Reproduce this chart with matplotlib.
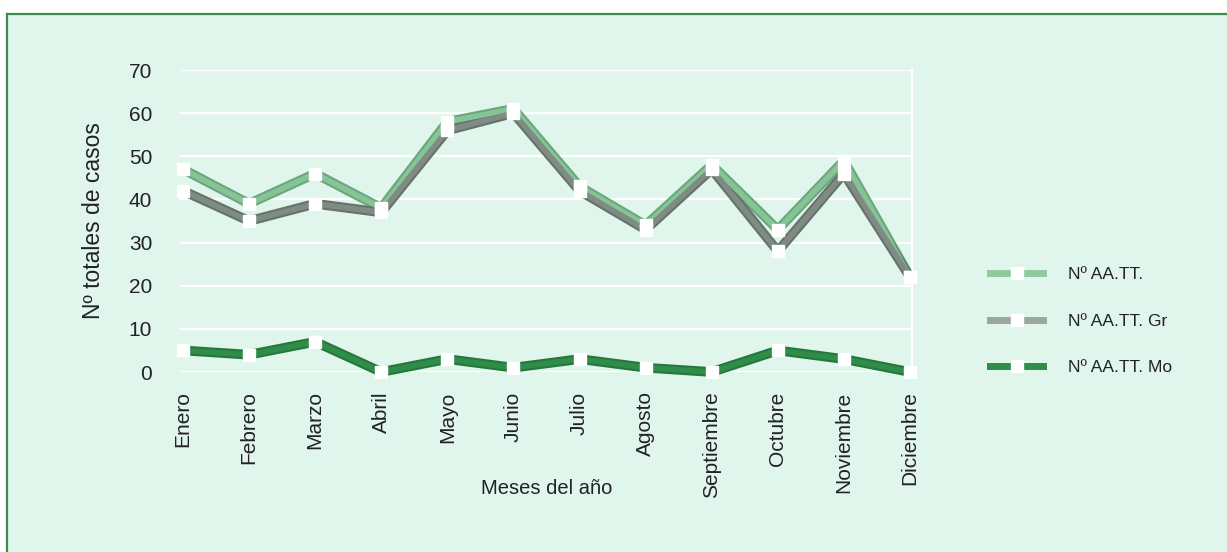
import matplotlib
matplotlib.use("Agg")
import matplotlib.pyplot as plt
from matplotlib.lines import Line2D
from matplotlib.patches import Rectangle

months = ["Enero", "Febrero", "Marzo", "Abril", "Mayo", "Junio", "Julio",
          "Agosto", "Septiembre", "Octubre", "Noviembre", "Diciembre"]
aatt_total = [47, 39, 46, 38, 58, 61, 43, 34, 48, 33, 49, 22]
aatt_gr = [42, 35, 39, 37, 56, 60, 42, 33, 47, 28, 46, 22]
aatt_mo = [5, 4, 7, 0, 3, 1, 3, 1, 0, 5, 3, 0]
series_labels = ["Nº AA.TT.", "Nº AA.TT. Gr", "Nº AA.TT. Mo"]
yticks = [0, 10, 20, 30, 40, 50, 60, 70]

plt.rcParams['font.family'] = ['Liberation Sans', 'DejaVu Sans']
text_col = "#222222"

W, H = 1227, 552
fig = plt.figure(figsize=(W / 100, H / 100), dpi=100, facecolor="white")

bg = "#e0f5ec"
frame = "#3d8a4e"
# panel background with a rule on the left and top edges
fig.add_artist(Rectangle((7 / W, 0), 1 - 7 / W, 1 - 14 / H,
                         transform=fig.transFigure, facecolor=bg,
                         edgecolor="none", zorder=0))
fig.add_artist(Line2D([7 / W, 7 / W], [0, 1 - 14 / H], transform=fig.transFigure,
                      color=frame, lw=1.6, zorder=1))
fig.add_artist(Line2D([7 / W, 1], [1 - 14 / H, 1 - 14 / H], transform=fig.transFigure,
                      color=frame, lw=1.6, zorder=1))

ax_l, ax_r = 180, 912
ax_top, ax_bot = 70, 372
ax = fig.add_axes([ax_l / W, 1 - ax_bot / H, (ax_r - ax_l) / W, (ax_bot - ax_top) / H])
ax.set_facecolor("none")

x = list(range(len(months)))
px_per = (910 - 183) / 11
ax.set_xlim(-(183 - ax_l) / px_per, 11 + (ax_r - 910) / px_per)
ax.set_ylim(0, 70)

for s in ax.spines.values():
    s.set_visible(False)
ax.spines["right"].set_visible(True)
ax.spines["right"].set_color("white")
ax.spines["right"].set_linewidth(1.5)

ax.set_yticks(yticks)
ax.yaxis.grid(True, color="white", lw=1.6)
ax.set_axisbelow(True)
ax.tick_params(axis="y", length=0, pad=20, labelsize=15, labelcolor=text_col)
ax.set_xticks(x)
ax.set_xticklabels(months, rotation=90, va="top", ha="center")
ax.tick_params(axis="x", length=0, pad=14, labelsize=15, labelcolor=text_col)

colors = ["#86c497", "#7f8c84", "#2f8c49"]
shadows = ["#6aa87c", "#66726b", "#25783c"]
data = [aatt_total, aatt_gr, aatt_mo]

# ribbon-like lines: darker body with a lighter core, white square markers on top
for vals, c, sh in zip(data, colors, shadows):
    ax.plot(x, vals, color=sh, lw=7, solid_capstyle="butt", zorder=3, clip_on=False)
    ax.plot(x, vals, color=c, lw=4, solid_capstyle="butt", zorder=3.1, clip_on=False)
for vals in data:
    ax.plot(x, vals, ls="none", marker="s", ms=9, mfc="white", mec="white",
            zorder=4, clip_on=False)

ax.set_ylabel("Nº totales de casos", fontsize=16.5, color=text_col)
ax.yaxis.set_label_coords((105 - ax_l) / (ax_r - ax_l), 0.5)
ax.text((547 - ax_l) / (ax_r - ax_l), (ax_bot - 489) / (ax_bot - ax_top),
        "Meses del año", fontsize=14.5, color=text_col,
        ha="center", va="center", transform=ax.transAxes)

handles = [Line2D([], [], color=c, lw=5, marker="s", ms=9, mfc="white", mec="white")
           for c in ["#8fca9f", "#9ba6a0", "#2f8c49"]]
fig.legend(handles, series_labels, loc="center left",
           bbox_to_anchor=(974 / W, 1 - 321 / H), frameon=False,
           prop={"size": 12.5}, handlelength=3.1, handletextpad=1.4,
           labelspacing=1.8, labelcolor=text_col)

fig.savefig("out.png", dpi=100, facecolor="white")
